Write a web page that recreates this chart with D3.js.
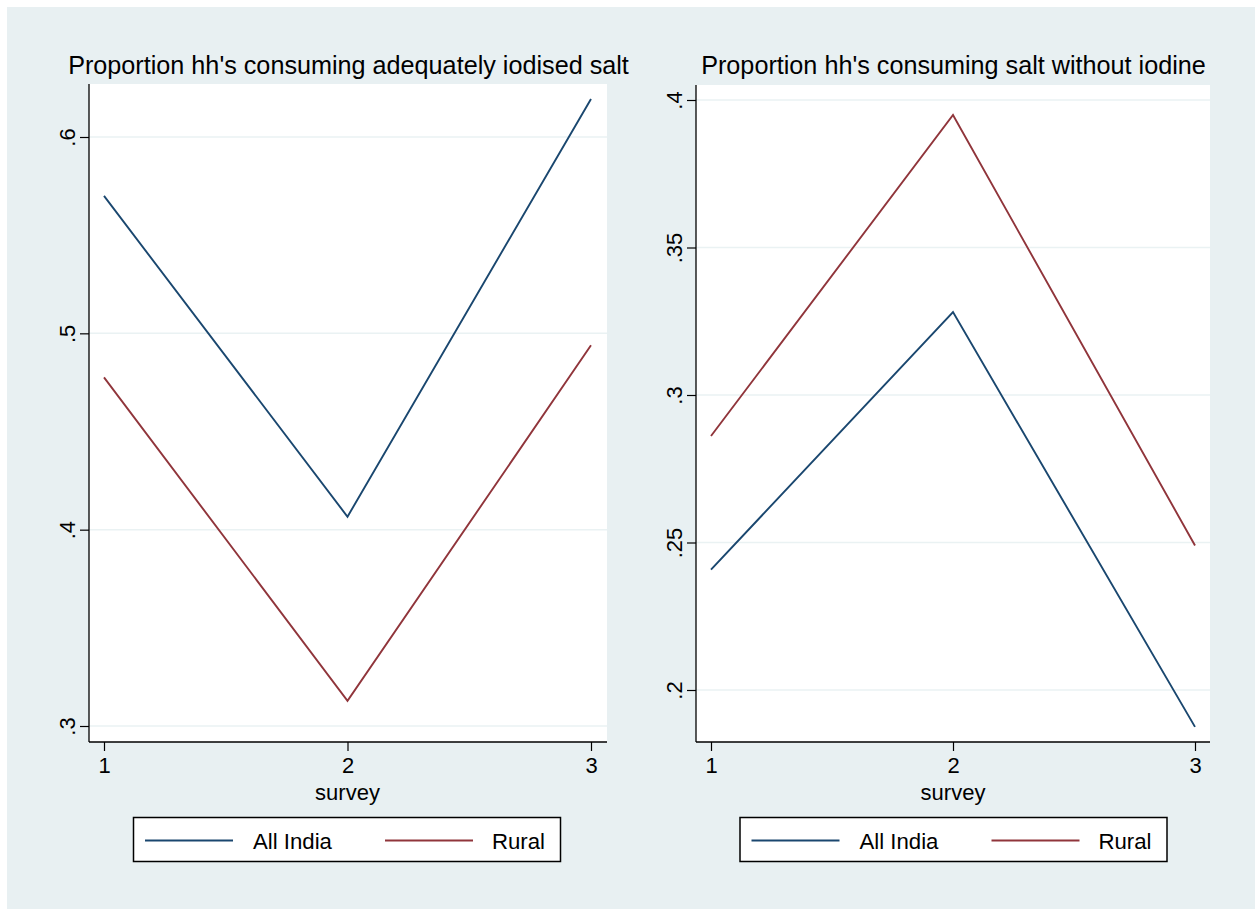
<!DOCTYPE html>
<html><head><meta charset="utf-8">
<script src="https://cdn.jsdelivr.net/npm/d3@7"></script>
<style>
html,body{margin:0;padding:0;background:#fff;}
svg{display:block;}
text{font-family:"Liberation Sans",Arial,Helvetica,sans-serif;fill:#000;}
</style></head><body>
<svg id="c" width="1255" height="909"></svg>
<script>
// ---- data ----
const surveys = [1, 2, 3];
const seriesNames = ["All India", "Rural"];
const adequateAllIndia = [0.570, 0.4066, 0.6194];
const adequateRural = [0.4776, 0.3128, 0.4939];
const noIodineAllIndia = [0.2408, 0.3281, 0.1875];
const noIodineRural = [0.2861, 0.3949, 0.2490];
const leftTicks = [0.3, 0.4, 0.5, 0.6];
const rightTicks = [0.2, 0.25, 0.3, 0.35, 0.4];
const titles = ["Proportion hh's consuming adequately iodised salt", "Proportion hh's consuming salt without iodine"];
const xLabel = "survey";

const colors = ["#1a476f", "#90353b"];
const bg = "#e8f0f2";
const grid = "#eaf2f3";
const FONT = "'Liberation Sans',Arial,Helvetica,sans-serif";

const svg = d3.select("#c");
svg.append("rect").attr("x", 7).attr("y", 7).attr("width", 1248).attr("height", 902).attr("fill", bg);

const fmt = v => String(v).replace(/^0/, "");

function panel(cfg) {
  const g = svg.append("g");
  const x = d3.scaleLinear().domain([1, 3]).range([cfg.x1, cfg.x3]);
  const y = d3.scaleLinear().domain(cfg.yDomain).range(cfg.yRange);
  // plot region
  g.append("rect").attr("x", cfg.left).attr("y", cfg.top).attr("width", cfg.right - cfg.left).attr("height", cfg.bottom - cfg.top).attr("fill", "#fff");
  // gridlines
  g.selectAll(".gl").data(cfg.ticks).enter().append("line")
    .attr("x1", cfg.left).attr("x2", cfg.right)
    .attr("y1", d => y(d)).attr("y2", d => y(d))
    .attr("stroke", grid).attr("stroke-width", 1.5);
  // y axis
  const ya = g.append("g").attr("transform", `translate(${cfg.left},0)`)
    .call(d3.axisLeft(y).tickValues(cfg.ticks).tickFormat(fmt).tickSize(9));
  ya.select(".domain").attr("d", `M0,${cfg.top}V${cfg.bottom}`).attr("stroke", "#000").attr("stroke-width", 1.3);
  ya.selectAll(".tick line").attr("stroke", "#000").attr("stroke-width", 1.2);
  ya.selectAll(".tick text")
    .attr("x", 0).attr("y", 0).attr("dy", null)
    .attr("text-anchor", "middle")
    .attr("transform", "translate(-14,0) rotate(-90)")
    .style("font-size", "22px").style("font-family", FONT);
  // x axis
  const xa = g.append("g").attr("transform", `translate(0,${cfg.bottom})`)
    .call(d3.axisBottom(x).tickValues(surveys).tickFormat(d3.format("d")).tickSize(9));
  xa.select(".domain").attr("d", `M${cfg.left},0H${cfg.right}`).attr("stroke", "#000").attr("stroke-width", 1.3);
  xa.selectAll(".tick line").attr("stroke", "#000").attr("stroke-width", 1.2);
  xa.selectAll(".tick text").attr("y", 31).attr("dy", null)
    .style("font-size", "22px").style("font-family", FONT);
  g.append("text").attr("x", x(2)).attr("y", 800).attr("text-anchor", "middle")
    .style("font-size", "22px").text(xLabel);
  // title
  g.append("text").attr("x", cfg.titleX).attr("y", 74).attr("text-anchor", "middle")
    .style("font-size", "25.2px").text(cfg.title);
  // lines
  const line = d3.line().x((d, i) => x(surveys[i])).y(d => y(d));
  cfg.series.forEach((s, k) => {
    g.append("path").datum(s).attr("d", line).attr("fill", "none").attr("stroke", colors[k]).attr("stroke-width", 1.9);
  });
  // legend
  const lg = g.append("g");
  const L = cfg.legX;
  lg.append("rect").attr("x", L).attr("y", 817.5).attr("width", 427).attr("height", 44)
    .attr("fill", "#fff").attr("stroke", "#000").attr("stroke-width", 1.5);
  const lineX = [[11.5, 99.5], [251.5, 339.5]];
  seriesNames.forEach((n, k) => {
    lg.append("line").attr("x1", L + lineX[k][0]).attr("x2", L + lineX[k][1]).attr("y1", 840.5).attr("y2", 840.5)
      .attr("stroke", colors[k]).attr("stroke-width", 1.9);
    lg.append("text").attr("x", k === 0 ? L + 119.5 : L + 411.5).attr("y", 848.5)
      .attr("text-anchor", k === 0 ? "start" : "end").style("font-size", "22.2px").text(n);
  });
}

panel({
  left: 89, right: 607, top: 84, bottom: 742,
  x1: 104, x3: 591,
  yDomain: [0.3, 0.6], yRange: [726, 137],
  ticks: leftTicks, title: titles[0], titleX: 348.5,
  series: [adequateAllIndia, adequateRural], legX: 133.5
});
panel({
  left: 696, right: 1210, top: 85, bottom: 742,
  x1: 711, x3: 1195,
  yDomain: [0.2, 0.4], yRange: [690, 100],
  ticks: rightTicks, title: titles[1], titleX: 953.5,
  series: [noIodineAllIndia, noIodineRural], legX: 740
});
</script>
</body></html>
